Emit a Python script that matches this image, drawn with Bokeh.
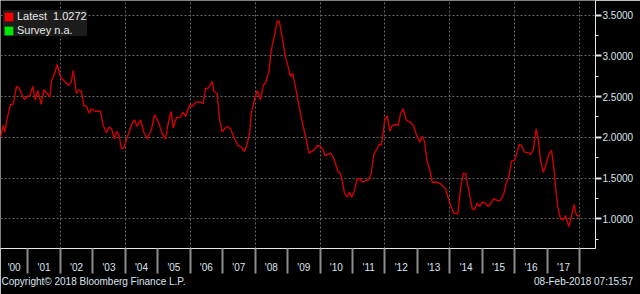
from bokeh.plotting import figure
from bokeh.models import FixedTicker, NumeralTickFormatter, Legend, LegendItem, Range1d, LinearAxis
from bokeh.embed import file_html
from bokeh.resources import INLINE

# ---- data (decimal year, value) ----
years = [
    2000.159, 2000.242, 2000.292, 2000.365, 2000.467, 2000.550, 2000.652, 2000.723, 2000.828, 2000.898,
    2000.981, 2001.062, 2001.154, 2001.228, 2001.308, 2001.413, 2001.493, 2001.597, 2001.678, 2001.730,
    2001.822, 2001.905, 2002.007, 2002.130, 2002.263, 2002.337, 2002.398, 2002.500, 2002.571, 2002.645,
    2002.725, 2002.808, 2002.891, 2002.962, 2003.085, 2003.239, 2003.322, 2003.424, 2003.495, 2003.578,
    2003.670, 2003.732, 2003.803, 2003.886, 2003.957, 2004.061, 2004.185, 2004.286, 2004.369, 2004.471,
    2004.573, 2004.677, 2004.801, 2004.902, 2005.035, 2005.139, 2005.241, 2005.342, 2005.416, 2005.478,
    2005.580, 2005.703, 2005.786, 2005.857, 2005.989, 2006.063, 2006.165, 2006.319, 2006.402, 2006.473,
    2006.575, 2006.679, 2006.729, 2006.833, 2006.904, 2006.987, 2007.058, 2007.141, 2007.243, 2007.345,
    2007.468, 2007.572, 2007.674, 2007.757, 2007.837, 2007.880, 2007.982, 2008.065, 2008.167, 2008.250,
    2008.330, 2008.423, 2008.496, 2008.598, 2008.681, 2008.743, 2008.835, 2008.937, 2009.008, 2009.091,
    2009.152, 2009.245, 2009.399, 2009.500, 2009.583, 2009.655, 2009.759, 2009.830, 2009.913, 2010.015,
    2010.098, 2010.147, 2010.240, 2010.323, 2010.406, 2010.477, 2010.548, 2010.631, 2010.692, 2010.754,
    2010.837, 2010.908, 2010.979, 2011.062, 2011.145, 2011.225, 2011.308, 2011.401, 2011.502, 2011.576,
    2011.656, 2011.739, 2011.822, 2011.893, 2011.945, 2011.995, 2012.069, 2012.149, 2012.223, 2012.325,
    2012.408, 2012.478, 2012.561, 2012.663, 2012.786, 2012.888, 2012.993, 2013.073, 2013.147, 2013.218,
    2013.301, 2013.381, 2013.455, 2013.587, 2013.710, 2013.864, 2013.997, 2014.120, 2014.243, 2014.326,
    2014.409, 2014.480, 2014.582, 2014.687, 2014.758, 2014.840, 2014.912, 2014.995, 2015.096, 2015.167,
    2015.250, 2015.333, 2015.456, 2015.559, 2015.660, 2015.743, 2015.814, 2015.897, 2015.989, 2016.051,
    2016.134, 2016.205, 2016.298, 2016.399, 2016.482, 2016.565, 2016.658, 2016.720, 2016.790, 2016.874,
    2016.944, 2017.046, 2017.129, 2017.200, 2017.252, 2017.323, 2017.406, 2017.489, 2017.560, 2017.662,
    2017.736, 2017.816, 2017.899, 2017.950, 2018.000,
]
values = [
    2.002, 2.146, 2.063, 2.232, 2.404, 2.404, 2.625, 2.609, 2.514, 2.465,
    2.502, 2.510, 2.625, 2.461, 2.575, 2.404, 2.584, 2.535, 2.493, 2.698,
    2.780, 2.895, 2.739, 2.690, 2.637, 2.677, 2.821, 2.535, 2.584, 2.567,
    2.391, 2.379, 2.297, 2.351, 2.321, 2.321, 2.146, 2.056, 2.125, 2.105,
    1.982, 2.072, 2.035, 1.860, 1.867, 2.002, 2.146, 2.216, 2.133, 2.216,
    2.063, 1.982, 2.084, 2.277, 2.174, 2.044, 1.982, 2.207, 2.318, 2.117,
    2.240, 2.248, 2.309, 2.256, 2.404, 2.379, 2.432, 2.432, 2.412, 2.596,
    2.609, 2.686, 2.567, 2.535, 2.228, 2.063, 2.105, 2.133, 2.105, 2.002,
    1.900, 1.879, 1.826, 1.921, 2.063, 2.289, 2.461, 2.575, 2.461, 2.637,
    2.677, 2.800, 3.067, 3.251, 3.426, 3.426, 3.230, 2.984, 2.883, 2.747,
    2.788, 2.616, 2.289, 2.105, 1.961, 1.805, 1.830, 1.847, 1.900, 1.888,
    1.847, 1.777, 1.789, 1.806, 1.757, 1.675, 1.585, 1.553, 1.449, 1.314,
    1.265, 1.327, 1.265, 1.348, 1.491, 1.491, 1.449, 1.470, 1.479, 1.553,
    1.790, 1.847, 1.912, 1.909, 2.063, 2.216, 2.268, 2.076, 2.146, 2.158,
    2.146, 2.289, 2.351, 2.207, 2.186, 2.133, 2.002, 1.941, 2.017, 1.949,
    1.695, 1.602, 1.449, 1.449, 1.430, 1.368, 1.192, 1.069, 1.061, 1.368,
    1.560, 1.560, 1.347, 1.123, 1.111, 1.192, 1.151, 1.204, 1.192, 1.151,
    1.184, 1.246, 1.225, 1.225, 1.307, 1.449, 1.511, 1.707, 1.716, 1.790,
    1.912, 1.900, 1.818, 1.814, 1.790, 1.839, 2.105, 1.982, 1.716, 1.572,
    1.642, 1.790, 1.839, 1.634, 1.388, 1.143, 1.000, 0.988, 1.041, 0.905,
    1.012, 1.175, 1.041, 1.035, 1.0272,
]

latest = 1.0272
survey = "n.a."
copyright_text = "Copyright\u00a9 2018 Bloomberg Finance L.P."
stamp_text = "08-Feb-2018 07:15:57"

year_starts = [2001 + i for i in range(18)]                # 2001 .. 2018
year_labels = ["'%02d" % (i % 100) for i in range(0, 18)]  # '00 .. '17
grid_years = [2002 + 2 * i for i in range(9)]               # 2002 .. 2018
y_ticks = [1.0, 1.5, 2.0, 2.5, 3.0, 3.5]
y_minor = [0.75, 1.25, 1.75, 2.25, 2.75, 3.25]

x_start, x_end = 2000.159, 2018.484
y_start, y_end = 0.635, 3.68

label_pos = [(x_start + 2001) / 2] + [2001.5 + i for i in range(17)]

TXT = "#dce4ee"
FONT = "Liberation Sans"

p = figure(width=640, height=294, output_backend="svg", toolbar_location=None,
           x_range=Range1d(x_start, x_end), y_range=Range1d(y_start, y_end),
           y_axis_location="right",
           min_border_left=0, min_border_top=0, min_border_right=45, min_border_bottom=46,
           background_fill_color="black", border_fill_color="black")
p.outline_line_color = None

# grid
p.xgrid.ticker = FixedTicker(ticks=grid_years)
for g in (p.xgrid, p.ygrid):
    g.grid_line_color = "#666666"
    g.grid_line_dash = "2 2"
    g.grid_line_width = 1

# x axis
xa = p.xaxis[0]
xa.ticker = FixedTicker(ticks=label_pos, minor_ticks=year_starts)
xa.major_label_overrides = {pos: lab for pos, lab in zip(label_pos, year_labels)}
xa.major_tick_line_color = None
xa.major_tick_out = 0
xa.major_tick_in = 0
xa.minor_tick_out = 25
xa.minor_tick_in = 0
xa.minor_tick_line_color = "#8c8c8c"
xa.minor_tick_line_width = 2
xa.axis_line_color = "#e6e6e6"
xa.axis_line_width = 1
xa.major_label_standoff = -12
xa.major_label_text_font = FONT
xa.major_label_text_font_size = "10px"
xa.major_label_text_color = TXT

# footer line: an unlined axis on a pixel-like extra range, carrying the two footer texts
p.extra_x_ranges = {"footer": Range1d(0, 595)}
foot_pos = [93.0, 583.0]
fa = LinearAxis(x_range_name="footer",
                ticker=FixedTicker(ticks=foot_pos, minor_ticks=[]),
                major_label_overrides={foot_pos[0]: copyright_text, foot_pos[1]: stamp_text})
fa.axis_line_color = None
fa.major_tick_line_color = None
fa.minor_tick_line_color = None
fa.major_tick_out = 0
fa.major_tick_in = 0
fa.minor_tick_out = 0
fa.major_label_standoff = 0
fa.major_label_text_font = FONT
fa.major_label_text_font_size = "10px"
fa.major_label_text_color = TXT
p.add_layout(fa, "below")

# y axis (right)
ya = p.yaxis[0]
ya.ticker = FixedTicker(ticks=y_ticks, minor_ticks=y_minor)
ya.formatter = NumeralTickFormatter(format="0.0000")
ya.axis_line_color = "#e6e6e6"
ya.axis_line_width = 1
ya.major_tick_out = 6
ya.major_tick_in = 0
ya.major_tick_line_width = 2
ya.major_tick_line_color = "#e6e6e6"
ya.minor_tick_out = 3
ya.minor_tick_in = 0
ya.minor_tick_line_color = "#e6e6e6"
ya.major_label_standoff = 1
ya.major_label_text_font = FONT
ya.major_label_text_font_size = "10px"
ya.major_label_text_color = TXT

# series
p.line(years, values, line_color="#d00000", line_width=1.4)

# legend swatches (no visible data of their own)
nan = float("nan")
r_red = p.quad(left=[nan], right=[nan], top=[nan], bottom=[nan], fill_color="#f40000", line_color=None)
r_green = p.quad(left=[nan], right=[nan], top=[nan], bottom=[nan], fill_color="#00e600", line_color=None)
legend = Legend(items=[
    LegendItem(label="Latest\u00a0\u00a0%.4f" % latest, renderers=[r_red]),
    LegendItem(label="Survey\u00a0%s" % survey, renderers=[r_green]),
], location=(3, 212))
legend.margin = 0
legend.padding = 5
legend.spacing = 2
legend.glyph_width = 11
legend.glyph_height = 11
legend.label_height = 11
legend.label_standoff = 3
legend.label_text_font = FONT
legend.label_text_font_size = "11px"
legend.label_text_color = "#e8e8e8"
legend.background_fill_color = "#1c1c1c"
legend.background_fill_alpha = 1
legend.border_line_color = None
p.add_layout(legend)

open("out.html", "w").write(file_html(p, INLINE))
